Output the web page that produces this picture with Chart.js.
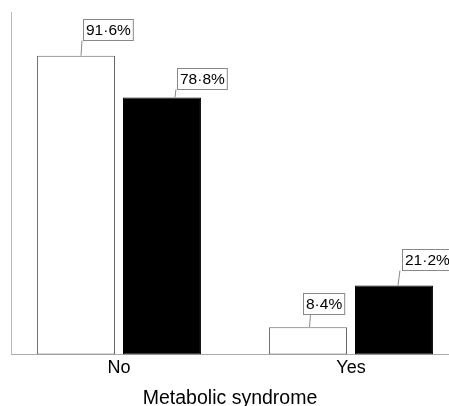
<!DOCTYPE html>
<html>
<head>
<meta charset="utf-8">
<script src="https://cdn.jsdelivr.net/npm/chart.js@4.4.0/dist/chart.umd.min.js"></script>
<style>
  html, body { margin: 0; padding: 0; background: #fff; }
  #wrap { width: 449px; height: 406px; position: relative; }
</style>
</head>
<body>
<div id="wrap"><canvas id="myChart"></canvas></div>
<script>
// data
var categories = ["No", "Yes"];
var whiteValues = [91.6, 8.4];
var blackValues = [78.8, 21.2];
var seriesNames = ["Group 1", "Group 2"];

// box offsets for the value labels (box left from bar centre, gap above bar, leader x)
var labelOffsets = [
    [{ dx: 7, gap: 16, lx1: 6, lx2: 5 }, { dx: -5.5, gap: 13, lx1: 2.5, lx2: 1.5 }],
    [{ dx: 15, gap: 8, lx1: 14, lx2: 13 }, { dx: 8, gap: 15, lx1: 6, lx2: 4 }]
];

function fmt(v) {
    return v.toFixed(1).replace(".", "\u00B7") + "%";
}

function points(values) {
    return values.map(function (v, i) { return { x: i, y: v }; });
}

Chart.defaults.font.family = "'Liberation Sans', Arial, Helvetica, sans-serif";
Chart.defaults.color = "#000";

// draws the boxed value labels with a short leader line
var boxLabels = {
    id: "boxLabels",
    afterDatasetsDraw: function (chart) {
        var c = chart.ctx;
        c.save();
        c.font = "15.5px 'Liberation Sans', Arial, sans-serif";
        c.textAlign = "center";
        c.textBaseline = "middle";
        chart.data.datasets.forEach(function (ds, di) {
            var meta = chart.getDatasetMeta(di);
            meta.data.forEach(function (bar, i) {
                var off = labelOffsets[di][i];
                var txt = fmt(ds.data[i].y);
                var w = c.measureText(txt).width + 5;
                var h = 21;
                var left = Math.round(bar.x + off.dx) + 0.5;
                var bottom = Math.round(bar.y - off.gap) + 0.5;
                var top = bottom - h;
                c.strokeStyle = "#888";
                c.lineWidth = 1;
                c.beginPath();
                c.moveTo(bar.x + off.lx1, bottom);
                c.lineTo(bar.x + off.lx2, bar.y);
                c.stroke();
                c.fillStyle = "#fff";
                c.fillRect(left, top, w, h);
                c.strokeRect(left, top, w, h);
                c.fillStyle = "#000";
                c.fillText(txt, left + w / 2, top + h / 2 + 0.5);
            });
        });
        c.restore();
    }
};

var ctx = document.getElementById("myChart").getContext("2d");

var myChart = new Chart(ctx, {
    type: "bar",
    data: {
        datasets: [{
            label: seriesNames[0],
            data: points(whiteValues),
            backgroundColor: "#fff",
            borderColor: "#666",
            borderWidth: 1,
            borderSkipped: false
        }, {
            label: seriesNames[1],
            data: points(blackValues),
            backgroundColor: "#000",
            borderColor: "#000",
            borderWidth: 1,
            borderSkipped: false
        }]
    },
    options: {
        responsive: true,
        maintainAspectRatio: false,
        animation: false,
        categoryPercentage: 0.741,
        barPercentage: 0.907,
        layout: {
            padding: { left: 11, top: 12, right: 0, bottom: 0 }
        },
        plugins: {
            legend: { display: false },
            tooltip: { enabled: false }
        },
        scales: {
            x: {
                type: "linear",
                min: -0.4655,
                max: 1.4224,
                bounds: "data",
                offset: false,
                afterBuildTicks: function (scale) {
                    scale.ticks = categories.map(function (c, i) { return { value: i }; });
                },
                grid: { display: false, drawTicks: false, offset: false },
                border: { display: true, color: "#aaa", width: 1 },
                ticks: {
                    autoSkip: false,
                    maxRotation: 0,
                    padding: 4.7,
                    font: { size: 18, lineHeight: 1 },
                    callback: function (v) { return categories[v]; }
                },
                title: {
                    display: true,
                    text: "Metabolic syndrome",
                    font: { size: 19.5, lineHeight: 0.8 },
                    padding: { top: 8.4, bottom: 0 }
                }
            },
            y: {
                min: 0,
                max: 105,
                grid: { display: false, drawTicks: false },
                border: { display: true, color: "#bbb", width: 1 },
                ticks: { display: false }
            }
        }
    },
    plugins: [boxLabels]
});
</script>
</body>
</html>
